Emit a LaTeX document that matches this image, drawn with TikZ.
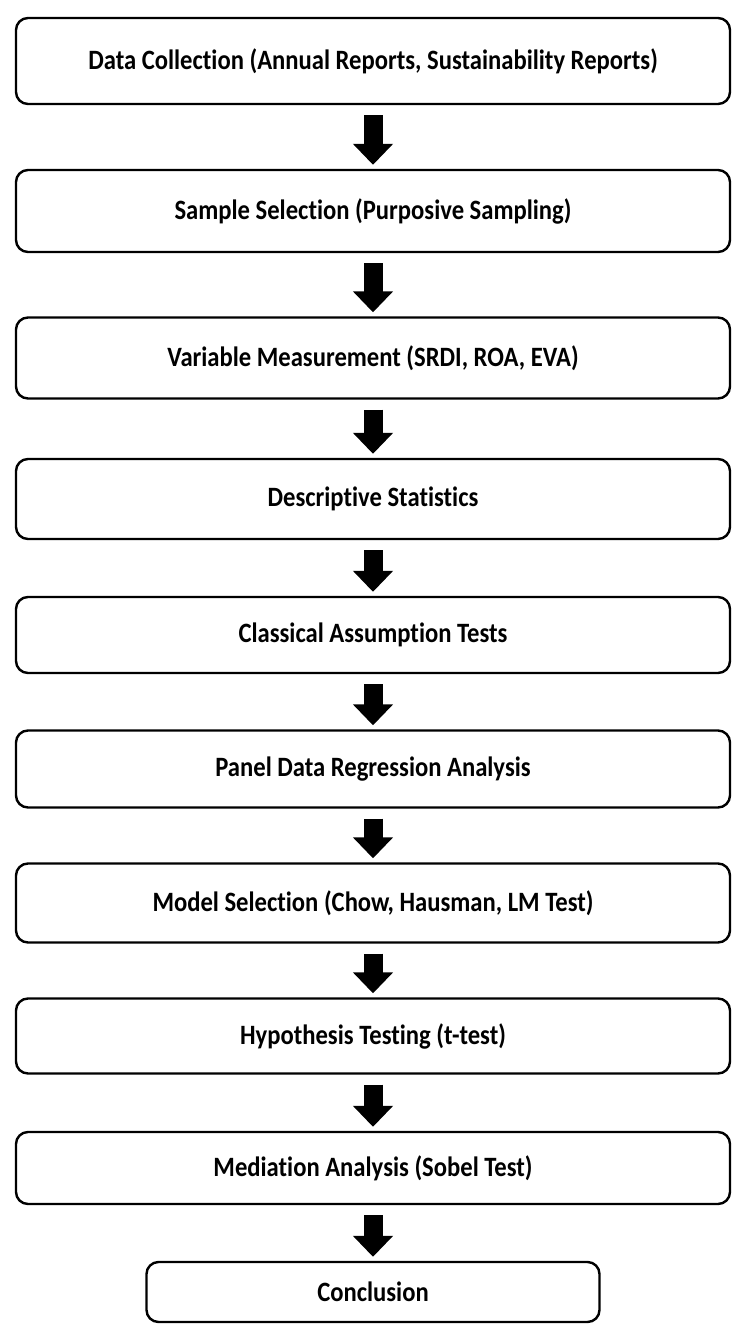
\documentclass[tikz,border=0pt]{standalone}
\usepackage{fontspec}
\setmainfont[Ligatures=NoCommon,FakeStretch=0.88]{Carlito}
\usetikzlibrary{arrows.meta}
\newcommand\boxwd{714pt}
\newcommand\boxcx{373}
\newcommand\gapdown{10pt}
\newcommand\gapup{4pt}

\begin{document}
\begin{tikzpicture}[x=1pt,y=-1pt,
    stepbox/.style={draw,line width=2.4pt,rounded corners=12pt,
      minimum width=\boxwd,inner sep=0pt,
      font=\bfseries\fontsize{28}{32}\selectfont},
    fatarr/.style={line width=19pt,-{Triangle[length=21pt,width=39pt]}}
  ]
    \useasboundingbox (0,0) rectangle (735,1326);

    \node[stepbox,minimum height=86pt] (collect) at (\boxcx,61)
      {Data Collection (Annual Reports, Sustainability Reports)};
    \node[stepbox,minimum height=82pt] (sample) at (\boxcx,211)
      {Sample Selection (Purposive Sampling)};
    \node[stepbox,minimum height=81pt] (measure) at (\boxcx,358)
      {Variable Measurement (SRDI, ROA, EVA)};
    \node[stepbox,minimum height=80pt] (descr) at (\boxcx,499)
      {Descriptive Statistics};
    \node[stepbox,minimum height=76pt] (assume) at (\boxcx,635)
      {Classical Assumption Tests};
    \node[stepbox,minimum height=77pt] (panel) at (\boxcx,769)
      {Panel Data Regression Analysis};
    \node[stepbox,minimum height=79pt] (model) at (\boxcx,903)
      {Model Selection (Chow, Hausman, LM Test)};
    \node[stepbox,minimum height=75pt] (hypo) at (\boxcx,1036)
      {Hypothesis Testing (t-test)};
    \node[stepbox,minimum height=72pt] (mediate) at (\boxcx,1168)
      {Mediation Analysis (Sobel Test)};
    \node[stepbox,minimum height=60pt,minimum width=453pt] (concl) at (\boxcx,1292)
      {Conclusion};

    \draw[fatarr] ([yshift=-\gapdown]collect.south) -- ([yshift=\gapup]sample.north);
    \draw[fatarr] ([yshift=-\gapdown]sample.south) -- ([yshift=\gapup]measure.north);
    \draw[fatarr] ([yshift=-\gapdown]measure.south) -- ([yshift=\gapup]descr.north);
    \draw[fatarr] ([yshift=-\gapdown]descr.south) -- ([yshift=\gapup]assume.north);
    \draw[fatarr] ([yshift=-\gapdown]assume.south) -- ([yshift=\gapup]panel.north);
    \draw[fatarr] ([yshift=-\gapdown]panel.south) -- ([yshift=\gapup]model.north);
    \draw[fatarr] ([yshift=-\gapdown]model.south) -- ([yshift=\gapup]hypo.north);
    \draw[fatarr] ([yshift=-\gapdown]hypo.south) -- ([yshift=\gapup]mediate.north);
    \draw[fatarr] ([yshift=-\gapdown]mediate.south) -- ([yshift=\gapup]concl.north);
  \end{tikzpicture}
\end{document}
